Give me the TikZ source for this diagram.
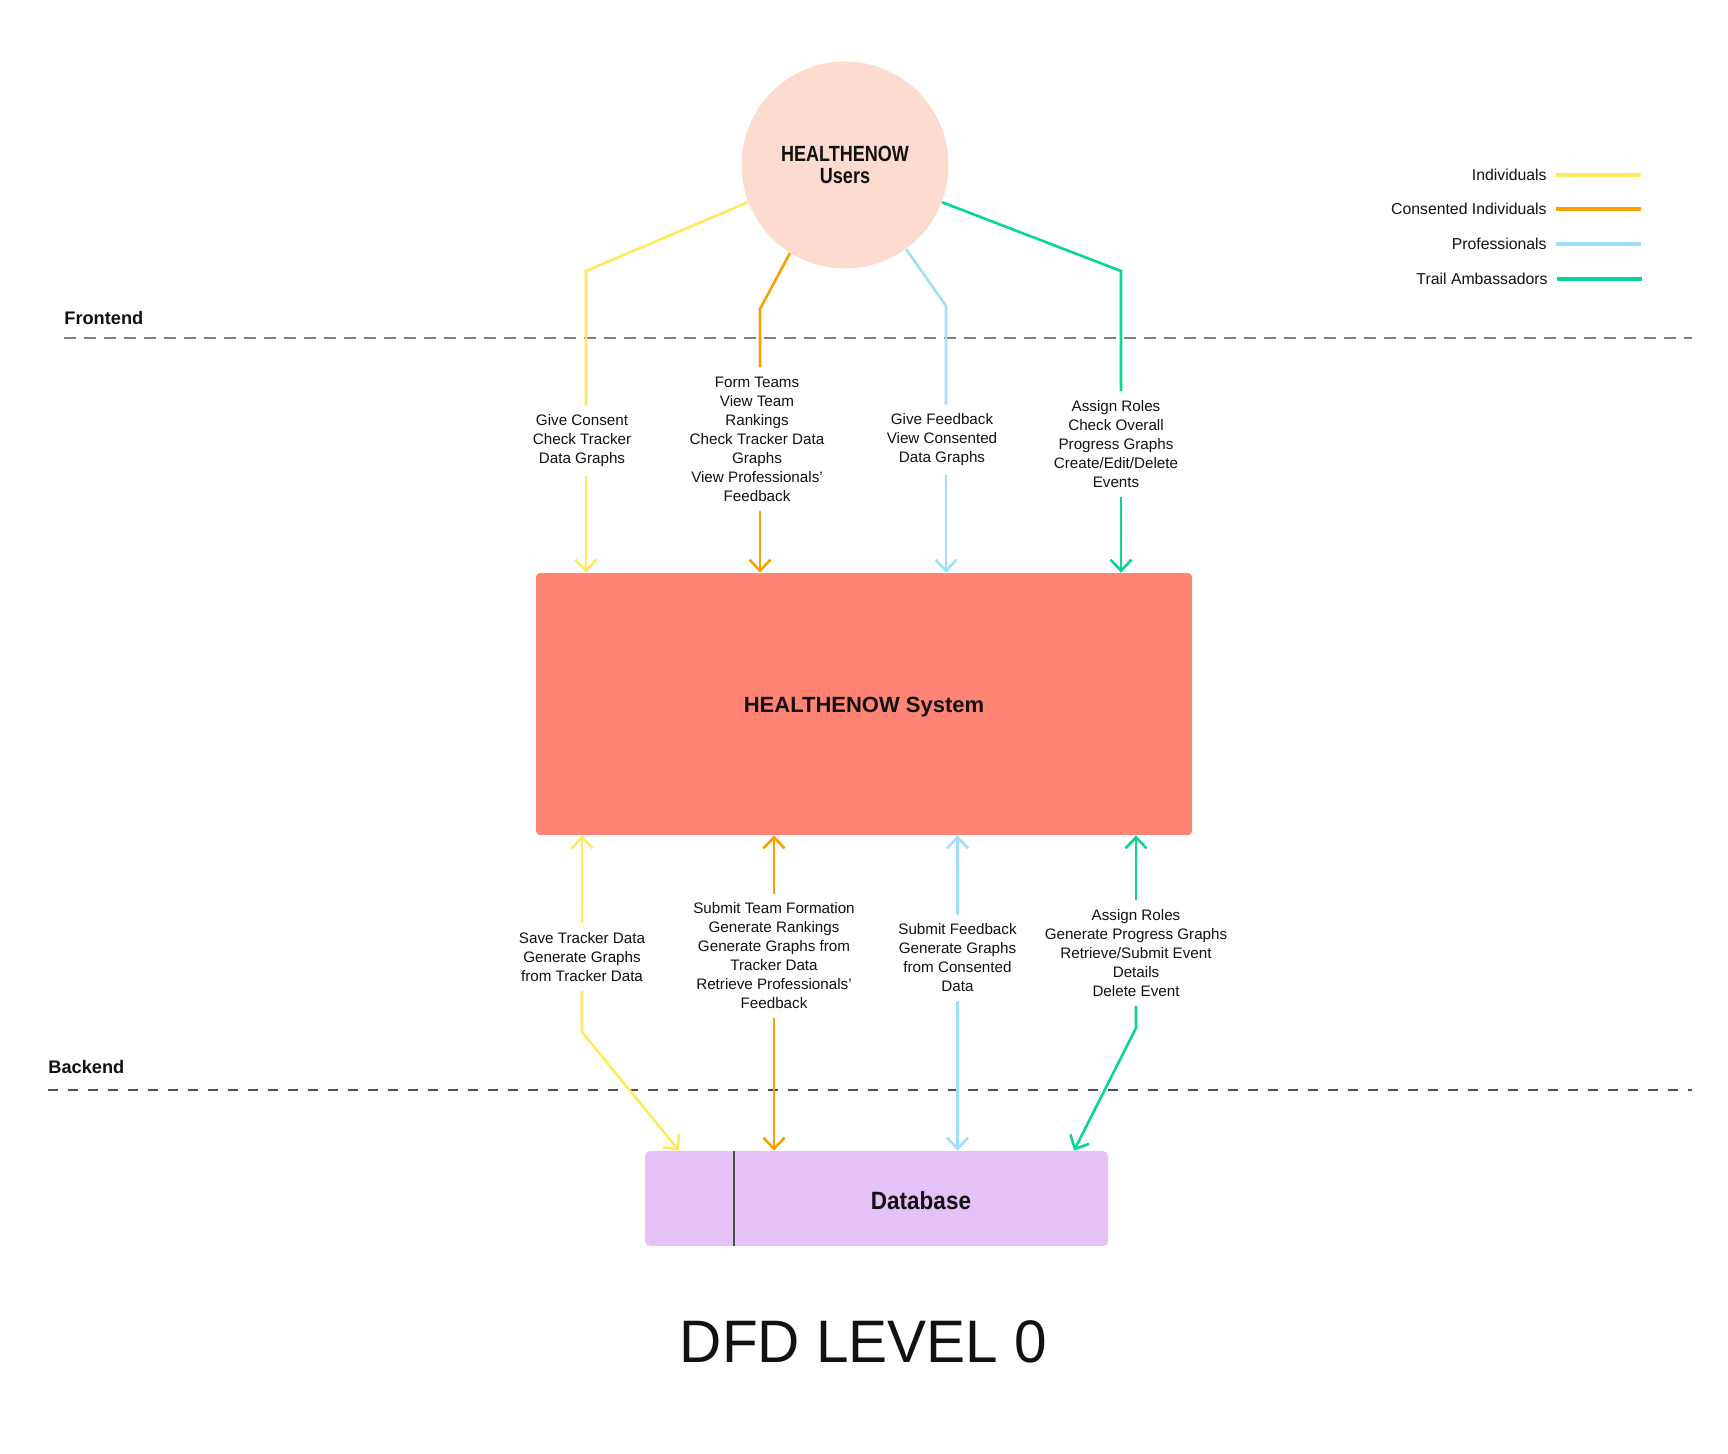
\documentclass[tikz,border=0pt]{standalone}
\usepackage{fontspec}
\setmainfont{Liberation Sans}
\newfontfamily\condA[FakeStretch=0.82]{Liberation Sans}
\newfontfamily\condB[FakeStretch=0.9]{Liberation Sans}
\newfontfamily\condC[FakeStretch=0.975]{Liberation Sans}
\usetikzlibrary{arrows.meta,calc}
\definecolor{cyel}{HTML}{FFEA5E}
\definecolor{cora}{HTML}{F7A100}
\definecolor{cblu}{HTML}{9FDFF7}
\definecolor{cgrn}{HTML}{0BD49A}
\definecolor{cpeach}{HTML}{FDDCCF}
\definecolor{csalmon}{HTML}{FF8473}
\definecolor{clav}{HTML}{E4C2F8}
\definecolor{cdashA}{HTML}{808080}
\definecolor{cdashB}{HTML}{505050}
\definecolor{ctext}{HTML}{111111}
\begin{document}
\begin{tikzpicture}[x=0.5pt,y=-0.5pt,
  plain/.style={line width=1.3pt},
  flow/.style={line width=1.3pt,-{Straight Barb[length=5.5pt,width=10.5pt]}},
  lbl/.style={font=\fontsize{7.6}{9.5}\selectfont, align=center, inner xsep=2pt, inner ysep=4.5pt, text=ctext},
  legtxt/.style={font=\fontsize{7.9}{9.5}\selectfont, inner sep=0pt, text=ctext},
  legline/.style={line width=1.6pt},
  zone/.style={font=\bfseries\fontsize{9.1}{11}\selectfont, inner sep=0pt, text=ctext},
  sepA/.style={line width=1pt, draw=cdashA, dash pattern=on 6pt off 4pt},
  sepB/.style={line width=1pt, draw=cdashB, dash pattern=on 5pt off 5pt},
  userbox/.style={circle, fill=cpeach, minimum size=103.5pt, inner sep=0pt, align=center,
    font=\condA\bfseries\fontsize{11}{11}\selectfont, text=ctext},
  sysbox/.style={rectangle, fill=csalmon, rounded corners=2pt, minimum width=328pt, minimum height=131pt,
    inner sep=0pt, font=\bfseries\fontsize{11}{13}\selectfont, text=ctext},
  dbbox/.style={rectangle, fill=clav, rounded corners=2.5pt, minimum width=231.5pt, minimum height=47.5pt, inner sep=0pt},
  divider/.style={line width=0.7pt, draw=black!70}
]
\useasboundingbox (0,0) rectangle (1728,1454);

% main nodes
\node[userbox] (users) at (845,165) {HEALTHENOW\\Users};
\node[sysbox] (system) at (864,704) {\raisebox{-4pt}[0pt][0pt]{HEALTHENOW System}};
\node[dbbox] (db) at (876.5,1198.5) {};
\coordinate (dv) at (734,0);
\draw[divider] (db.north -| dv) -- (db.south -| dv);
\node[font=\condB\bfseries\fontsize{12.5}{14}\selectfont, text=ctext, inner sep=0pt] (dbt) at (921,1201) {Database};

% zones
\node[zone, anchor=base west] (front) at (64,325) {Frontend};
\node[zone, anchor=base west] (back) at (48,1073) {Backend};
\draw[sepA] (64,338) -- (1692,338);
\draw[sepB] (48,1090) -- (1692,1090);

% legend
\node[legtxt, anchor=east] (lg1) at (1547,175) {Individuals};
\node[legtxt, anchor=east] (lg2) at (1547,209) {Consented Individuals};
\node[legtxt, anchor=east] (lg3) at (1547,244) {Professionals};
\node[legtxt, anchor=east] (lg4) at (1548,279) {Trail Ambassadors};
\draw[legline, cyel] (lg1.east) ++(9,0) -- ++(85,0);
\draw[legline, cora] (lg2.east) ++(9,0) -- ++(85,0);
\draw[legline, cblu] (lg3.east) ++(9,0) -- ++(85,0);
\draw[legline, cgrn] (lg4.east) ++(9,0) -- ++(85,0);

% top flows
\coordinate (yb1) at (586,271);
\coordinate (ob1) at (760,309);
\coordinate (bb1) at (946,306);
\coordinate (gb1) at (1121,271);
\node[lbl] (l1) at (582,441) {Give Consent\\Check Tracker\\Data Graphs};
\node[lbl] (l2) at (757,439) {Form Teams\\View Team\\Rankings\\Check Tracker Data\\Graphs\\View Professionals’\\Feedback};
\node[lbl] (l3) at (942,440) {Give Feedback\\View Consented\\Data Graphs};
\node[lbl] (l4) at (1116,444) {Assign Roles\\Check Overall\\Progress Graphs\\Create/Edit/Delete\\Events};
\draw[plain, cyel] (users.201.4) -- (yb1) -- (yb1 |- l1.north);
\draw[flow, cyel] (l1.south -| yb1) -- (system.north -| yb1);
\draw[plain, cora] (users.238.7) -- (ob1) -- (ob1 |- l2.north);
\draw[flow, cora] (l2.south -| ob1) -- (system.north -| ob1);
\draw[plain, cblu] (users.306.3) -- (bb1) -- (bb1 |- l3.north);
\draw[flow, cblu] (l3.south -| bb1) -- (system.north -| bb1);
\draw[plain, cgrn] (users.339) -- (gb1) -- (gb1 |- l4.north);
\draw[flow, cgrn] (l4.south -| gb1) -- (system.north -| gb1);

% bottom flows
\coordinate (yb2) at (582,1032);
\coordinate (yt2) at (679,0);
\coordinate (gb2) at (1136,1028);
\coordinate (gt2) at (1074,0);
\node[lbl] (l5) at (582,957) {Save Tracker Data\\Generate Graphs\\from Tracker Data};
\node[lbl] (l6) at (774,956) {Submit Team Formation\\Generate Rankings\\Generate Graphs from\\Tracker Data\\Retrieve Professionals’\\Feedback};
\node[lbl] (l7) at (957.5,958) {Submit Feedback\\Generate Graphs\\from Consented\\Data};
\node[lbl] (l8) at (1136,953) {Assign Roles\\Generate Progress Graphs\\Retrieve/Submit Event\\Details\\Delete Event};
\draw[flow, cyel] (l5.north) -- (l5.north |- system.south);
\draw[flow, cyel] (l5.south) -- (yb2) -- (db.north -| yt2);
\draw[flow, cora] (l6.north) -- (l6.north |- system.south);
\draw[flow, cora] (l6.south) -- (l6.south |- db.north);
\draw[flow, cblu] (l7.north) -- (l7.north |- system.south);
\draw[flow, cblu] (l7.south) -- (l7.south |- db.north);
\draw[flow, cgrn] (l8.north) -- (l8.north |- system.south);
\draw[flow, cgrn] (l8.south) -- (gb2) -- (db.north -| gt2);

% title
\node[font=\condC\fontsize{30}{34}\selectfont, text=ctext, anchor=base, inner sep=0pt] (title) at (863.5,1362) {DFD LEVEL 0};
\end{tikzpicture}
\end{document}
